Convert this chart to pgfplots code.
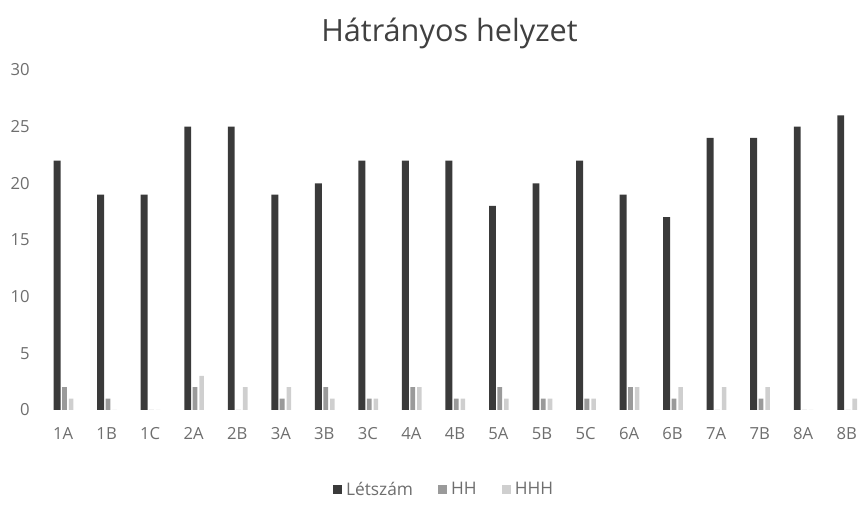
\documentclass[border=0pt]{standalone}
\usepackage{pgfplots}
\pgfplotsset{compat=1.18}
\usepackage{fontspec}
\setmainfont{Open Sans}
\definecolor{cLet}{HTML}{3A3A3A}
\definecolor{cHH}{HTML}{9A9A9A}
\definecolor{cHHH}{HTML}{CFCFCF}
\definecolor{cTxt}{HTML}{6E6E6E}
\begin{document}
\begin{tikzpicture}
\begin{axis}[
  scale only axis,
  width=619pt, height=255pt,
  xmin=-0.6, xmax=18.35,
  ymin=0, ymax=30,
  ytick={0,5,...,30},
  xtick={0,...,18},
  xticklabels={1A,1B,1C,2A,2B,3A,3B,3C,4A,4B,5A,5B,5C,6A,6B,7A,7B,8A,8B},
  axis line style={draw=none},
  tick style={draw=none},
  /pgf/number format/assume math mode=true,
  ticklabel style={font=\fontsize{12.5}{14}\selectfont, text=cTxt},
  xticklabel style={yshift=-10pt},
  yticklabel style={xshift=-2pt},
  title={Hátrányos helyzet},
  title style={font=\fontsize{23}{26}\selectfont, text=black!75, yshift=6pt},
  legend style={at={(0.494,-0.235)}, anchor=center, draw=none, legend columns=3,
    font=\fontsize{13}{15}\selectfont, text=cTxt,
    /tikz/every odd column/.append style={column sep=1pt},
    /tikz/every even column/.append style={column sep=17pt}},
  legend image code/.code={\fill[#1] (0pt,-3.3pt) rectangle (6.6pt,3.3pt);},
]
\addplot[ybar, bar width=5.2pt, bar shift=-4.5pt, fill=cLet, draw=none] coordinates {
(0,22) (1,19) (2,19) (3,25) (4,25) (5,19) (6,20) (7,22) (8,22) (9,22)
(10,18) (11,20) (12,22) (13,19) (14,17) (15,24) (16,24) (17,25) (18,26)};
\addlegendentry{Létszám}
\addplot[ybar, bar width=3.6pt, bar shift=1pt, fill=cHH, draw=none] coordinates {
(0,2) (1,1) (2,0) (3,2) (4,0) (5,1) (6,2) (7,1) (8,2) (9,1)
(10,2) (11,1) (12,1) (13,2) (14,1) (15,0) (16,1) (17,0) (18,0)};
\addlegendentry{HH}
\addplot[ybar, bar width=3.4pt, bar shift=6pt, fill=cHHH, draw=none] coordinates {
(0,1) (1,0) (2,0) (3,3) (4,2) (5,2) (6,1) (7,1) (8,2) (9,1)
(10,1) (11,1) (12,1) (13,2) (14,2) (15,2) (16,2) (17,0) (18,1)};
\addlegendentry{HHH}
\end{axis}
\pgfresetboundingbox
\path[use as bounding box] ([xshift=-27.75pt,yshift=-73.5pt]current axis.south west) rectangle ([xshift=2.25pt,yshift=52.5pt]current axis.north east);
\end{tikzpicture}
\end{document}
